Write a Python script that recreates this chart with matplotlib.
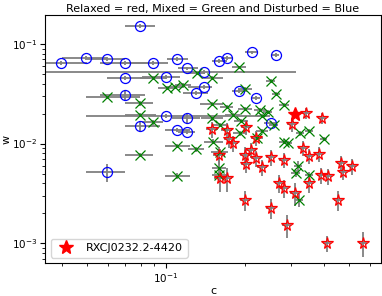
import matplotlib

matplotlib.use("Agg")
import matplotlib.pyplot as plt

# disturbed (blue circles)
blue_c = [0.0796, 0.0397, 0.0495, 0.0595, 0.0697, 0.0892, 0.110, 0.1203, 0.1397,
          0.1594, 0.1709, 0.213, 0.263, 0.0697, 0.100, 0.0697, 0.1302, 0.1397,
          0.190, 0.2206, 0.100, 0.1203, 0.0796, 0.1101, 0.1203, 0.0595, 0.2517]
blue_w = [0.152, 0.0644, 0.0723, 0.0707, 0.0644, 0.0644, 0.0707, 0.0574, 0.0523,
          0.0675, 0.0723, 0.083, 0.0775, 0.0455, 0.0466, 0.0307, 0.0322, 0.037,
          0.0337, 0.0287, 0.0189, 0.018, 0.015, 0.0137, 0.0131, 0.00518, 0.0161]
blue_c_lo = [0.0099, 0.006, 0.0095, 0.0096, 0.0138, 0.0225, 0.009, 0.0093, 0.1097,
             0.009, 0.009, 0.013, 0.008, 0.0102, 0.019, 0.0138, 0.0141, 0.0184,
             0.0114, 0.008, 0.0505, 0.015, 0.0099, 0.011, 0.0093, 0.010, 0.015]
blue_c_hi = [0.0112, 0.0102, 0.010, 0.0102, 0.0172, 0.0126, 0.011, 0.0122, 0.1738,
             0.012, 0.010, 0.011, 0.008, 0.0172, 0.013, 0.0135, 0.0142, 0.0101,
             0.0138, 0.008, 0.1495, 0.0144, 0.0152, 0.0133, 0.0086, 0.0102, 0.012]
blue_w_err = [0.006, 0.003, 0.003, 0.003, 0.003, 0.003, 0.003, 0.002, 0.002,
              0.003, 0.003, 0.003, 0.003, 0.002, 0.002, 0.0035, 0.0015, 0.0015,
              0.0015, 0.0012, 0.0008, 0.002, 0.0018, 0.0006, 0.0006, 0.0011, 0.0008]

# mixed (green crosses)
green_c = [0.0892, 0.1313, 0.1498, 0.190, 0.2517, 0.263, 0.1009, 0.1082, 0.1161,
           0.2003, 0.0595, 0.0796, 0.0796, 0.0892, 0.0796, 0.1101, 0.1101, 0.1302,
           0.1498, 0.1709, 0.2003, 0.2285, 0.2325, 0.1498, 0.1607, 0.1802, 0.1933,
           0.2325, 0.1916, 0.2225, 0.1511, 0.1607, 0.1594, 0.1594, 0.2821, 0.2451,
           0.2584, 0.3247, 0.3515, 0.4009, 0.2821, 0.2922, 0.319, 0.3135, 0.3515,
           0.3218]
green_w = [0.0455, 0.0511, 0.0455, 0.0587, 0.0425, 0.0314, 0.0361, 0.037, 0.0387,
           0.0353, 0.0293, 0.0255, 0.0193, 0.0164, 0.00766, 0.00944, 0.00471, 0.00881,
           0.0249, 0.0233, 0.0222, 0.0217, 0.0189, 0.018, 0.0153, 0.0193, 0.0168,
           0.0134, 0.0127, 0.0114, 0.0104, 0.00822, 0.00567, 0.00482, 0.0244, 0.0207,
           0.0153, 0.0127, 0.0134, 0.0111, 0.0104, 0.0101, 0.00594, 0.00505, 0.00482,
           0.00271]
green_c_lo = [0.0096, 0.010, 0.012, 0.011, 0.010, 0.010, 0.008, 0.008, 0.008,
              0.012, 0.010, 0.0099, 0.0099, 0.008, 0.0099, 0.011, 0.011, 0.009,
              0.015, 0.010, 0.012, 0.012, 0.010, 0.014, 0.010, 0.012, 0.012,
              0.012, 0.012, 0.012, 0.012, 0.012, 0.010, 0.010, 0.012, 0.010,
              0.010, 0.012, 0.012, 0.012, 0.012, 0.012, 0.012, 0.012, 0.012,
              0.012]
green_c_hi = [0.011, 0.010, 0.015, 0.012, 0.010, 0.010, 0.009, 0.009, 0.009,
              0.013, 0.020, 0.0096, 0.012, 0.008, 0.0096, 0.013, 0.013, 0.010,
              0.015, 0.010, 0.012, 0.012, 0.010, 0.016, 0.012, 0.012, 0.012,
              0.012, 0.012, 0.012, 0.014, 0.012, 0.010, 0.010, 0.012, 0.010,
              0.010, 0.012, 0.012, 0.012, 0.012, 0.012, 0.012, 0.012, 0.012,
              0.012]
green_w_err = [0.002, 0.002, 0.002, 0.002, 0.002, 0.0015, 0.0015, 0.0015, 0.0015,
               0.0015, 0.0015, 0.0015, 0.001, 0.001, 0.0004, 0.0005, 0.0003, 0.0005,
               0.0012, 0.0012, 0.001, 0.001, 0.001, 0.001, 0.0008, 0.001, 0.0008,
               0.0007, 0.0007, 0.0006, 0.0006, 0.0005, 0.0015, 0.0004, 0.0012, 0.001,
               0.0008, 0.0007, 0.0007, 0.0006, 0.0006, 0.0006, 0.0008, 0.0004, 0.0004,
               0.0004]

# relaxed (red stars)
red_c = [0.3423, 0.3939, 0.3026, 0.1498, 0.1709, 0.202, 0.2206, 0.174, 0.1802,
         0.1594, 0.2111, 0.2003, 0.2206, 0.2517, 0.2821, 0.202, 0.2325, 0.3334,
         0.3515, 0.3837, 0.4656, 0.5129, 0.4738, 0.3905, 0.4153, 0.3515, 0.270,
         0.2821, 0.3107, 0.1709, 0.1607, 0.2003, 0.2517, 0.2896, 0.4117, 0.5648,
         0.4535]
red_w = [0.0203, 0.018, 0.0157, 0.014, 0.0137, 0.0146, 0.0114, 0.0111, 0.0101,
         0.00766, 0.00861, 0.00766, 0.00715, 0.00732, 0.00682, 0.00622, 0.0058, 0.00901,
         0.00749, 0.00784, 0.00637, 0.00594, 0.00518, 0.00482, 0.00471, 0.00401, 0.00401,
         0.00357, 0.00318, 0.0045, 0.0045, 0.00271, 0.00225, 0.00152, 0.0010, 0.0010,
         0.00271]
red_c_err = [0.013, 0.014, 0.012, 0.008, 0.008, 0.009, 0.009, 0.008, 0.008,
             0.008, 0.009, 0.009, 0.009, 0.010, 0.011, 0.009, 0.010, 0.013,
             0.013, 0.014, 0.017, 0.018, 0.017, 0.014, 0.015, 0.013, 0.010,
             0.011, 0.012, 0.008, 0.008, 0.009, 0.010, 0.011, 0.015, 0.020,
             0.017]
red_w_err = [0.0025, 0.0022, 0.0025, 0.0025, 0.0025, 0.0025, 0.002, 0.002, 0.0018,
             0.0015, 0.0015, 0.0015, 0.0013, 0.0013, 0.0012, 0.0012, 0.0011, 0.0015,
             0.0013, 0.0013, 0.0011, 0.0011, 0.0009, 0.0009, 0.0009, 0.0008, 0.0008,
             0.0007, 0.0008, 0.0012, 0.0012, 0.0006, 0.0005, 0.0004, 0.00018, 0.00028,
             0.0006]

# highlighted cluster
hl_name = "RXCJ0232.2-4420"
hl_c = [0.3107]
hl_w = [0.0198]

FONT_SIZE = 8
ERR_STYLE = dict(ecolor="gray", elinewidth=1.3, capsize=0, linestyle="none")

fig, ax = plt.subplots(figsize=(3.82, 2.96), dpi=100)
fig.subplots_adjust(left=0.118, right=0.997, top=0.949, bottom=0.111)

ax.errorbar(blue_c, blue_w, xerr=[blue_c_lo, blue_c_hi], yerr=blue_w_err,
            marker="o", ms=7.2, mfc="none", mec="blue", mew=0.9, **ERR_STYLE)
ax.errorbar(green_c, green_w, xerr=[green_c_lo, green_c_hi], yerr=green_w_err,
            marker="x", ms=7, mec="green", mew=0.9, **ERR_STYLE)
ax.errorbar(red_c, red_w, xerr=red_c_err, yerr=red_w_err,
            marker="*", ms=8.5, mfc="none", mec="red", mew=0.9, **ERR_STYLE)
ax.plot(hl_c, hl_w, "*", color="red", ms=10, label=hl_name)

ax.set_xscale("log")
ax.set_yscale("log")
ax.set_xlim(0.0345, 0.662)
ax.set_ylim(0.00063, 0.195)
ax.set_xlabel("c", fontsize=FONT_SIZE, labelpad=1)
ax.set_ylabel("w", fontsize=FONT_SIZE, labelpad=0)
ax.set_title("Relaxed = red, Mixed = Green and Disturbed = Blue",
             fontsize=FONT_SIZE, pad=2)
ax.tick_params(labelsize=7.5, pad=2)
ax.legend(loc="lower left", fontsize=FONT_SIZE)

fig.savefig("out.png", dpi=100)
